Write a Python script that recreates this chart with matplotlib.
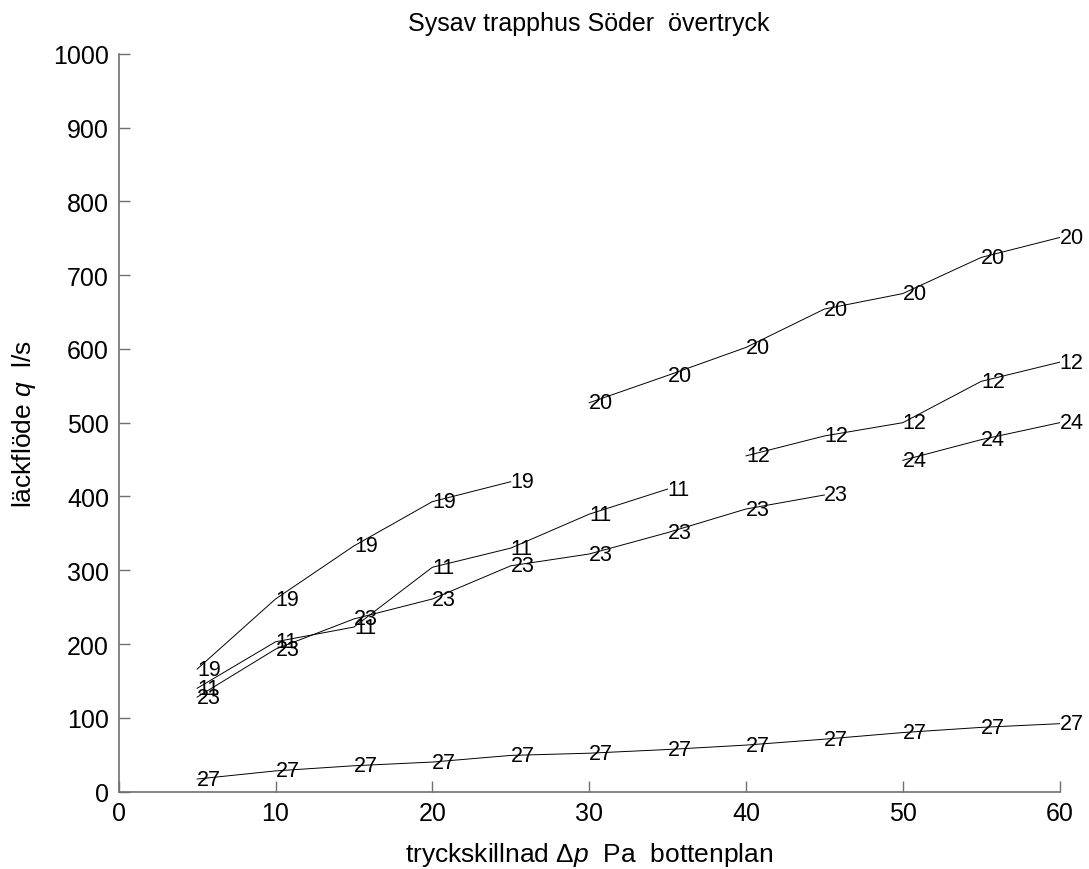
import matplotlib
matplotlib.use("Agg")
import matplotlib.pyplot as plt

plt.rcParams['font.family'] = ['Liberation Sans', 'DejaVu Sans']
plt.rcParams['mathtext.fontset'] = 'custom'
plt.rcParams['mathtext.it'] = 'Liberation Sans:italic'
plt.rcParams['mathtext.rm'] = 'Liberation Sans'

# tryckskillnad (Pa) och läckflöde (l/s) per mätserie
x19 = [5, 10, 15, 20, 25]
q19 = [166, 261, 333, 393, 420]

x11 = [5, 10, 15, 20, 25, 30, 35]
q11 = [140, 203, 223, 304, 330, 376, 410]

x23 = [5, 10, 15, 20, 25, 30, 35, 40, 45]
q23 = [128, 193, 234, 261, 306, 322, 351, 383, 402]

x20 = [30, 35, 40, 45, 50, 55, 60]
q20 = [527, 564, 602, 654, 675, 724, 751]

x12 = [40, 45, 50, 55, 60]
q12 = [455, 482, 500, 556, 582]

x24 = [50, 55, 60]
q24 = [449, 477, 500]

x27 = [5, 10, 15, 20, 25, 30, 35, 40, 45, 50, 55, 60]
q27 = [17, 28, 35, 40, 49, 52, 57, 63, 71, 80, 87, 92]

series = [('19', x19, q19), ('11', x11, q11), ('23', x23, q23),
          ('20', x20, q20), ('12', x12, q12), ('24', x24, q24),
          ('27', x27, q27)]

fig = plt.figure(figsize=(10.89, 8.70), dpi=100)
ax = fig.add_axes([0.109, 0.089, 0.864, 0.848])

for name, xs, qs in series:
    ax.plot(xs, qs, color='black', linewidth=0.7)
    for xv, qv in zip(xs, qs):
        ax.text(xv, qv, name, ha='left', va='center', fontsize=15.5)

ax.set_xlim(0, 60)
ax.set_ylim(0, 1000)
ax.set_xticks(range(0, 61, 10))
ax.set_yticks(range(0, 1001, 100))

for s in ['top', 'right']:
    ax.spines[s].set_visible(False)
for s in ['left', 'bottom']:
    ax.spines[s].set_color('#707070')
    ax.spines[s].set_linewidth(1.2)
ax.tick_params(direction='in', length=8, width=1, color='#707070',
               labelsize=18, pad=7)

ax.set_title('Sysav trapphus Söder  övertryck', fontsize=18, pad=17)
ax.set_xlabel(r'tryckskillnad $\mathit{Δp}$  Pa  bottenplan', fontsize=19)
ax.set_ylabel(r'läckflöde $q$  l/s', fontsize=19)
ax.xaxis.set_label_coords(0.5, -0.066)
ax.yaxis.set_label_coords(-0.086, 0.5)

fig.savefig('out.png', dpi=100)
